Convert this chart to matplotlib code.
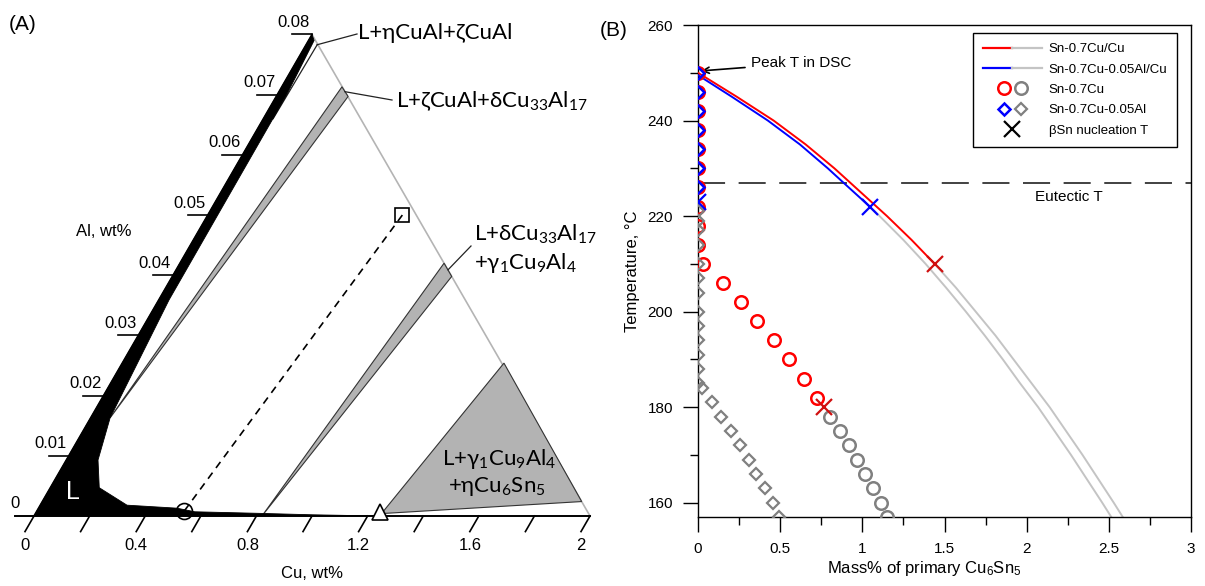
import numpy as np
import matplotlib
matplotlib.use('Agg')
import matplotlib.pyplot as plt
from matplotlib.patches import Polygon
from matplotlib.lines import Line2D
from matplotlib.legend_handler import HandlerTuple

W, H, DPI = 1205, 586, 100
plt.rcParams['font.family'] = ['Liberation Sans', 'DejaVu Sans']
plt.rcParams['mathtext.default'] = 'regular'
PHASE_FONT = ['Lato', 'DejaVu Sans']

# ================= Panel A data (wt% compositions) =================
CU_MAX, AL_MAX = 2.0, 0.08
cu_ticks = [0.0, 0.2, 0.4, 0.6, 0.8, 1.0, 1.2, 1.4, 1.6, 1.8, 2.0]
cu_labels = ['0', '', '0.4', '', '0.8', '', '1.2', '', '1.6', '', '2']
al_ticks = [0.0, 0.01, 0.02, 0.03, 0.04, 0.05, 0.06, 0.07, 0.08]
al_labels = ['0', '0.01', '0.02', '0.03', '0.04', '0.05', '0.06', '0.07', '0.08']

# single-phase liquid (L) region boundary
liq_cu = [0.0, 0.0, 0.020, 0.034, 0.037, 0.070, 0.114, 0.176, 0.312, 0.498, 0.570, 0.796, 1.000, 1.240]
liq_al = [0.0, 0.080, 0.0790, 0.0700, 0.0359, 0.0163, 0.0093, 0.0047, 0.0018, 0.0013, 0.0007, 0.00045, 0.0002, 0.0]
# three-phase regions
ez_cu = [0.040, 0.035]                 # L+eta+zeta (very thin)
ez_al = [0.0783, 0.0660]
zd_cu = [0.070, 0.2165, 0.2585]        # L+zeta+delta
zd_al = [0.0163, 0.0713, 0.0697]
dg_cu = [0.820, 0.950, 1.005]          # L+delta+gamma1
dg_al = [0.0, 0.0420, 0.0398]
gh_cu = [1.245, 1.373, 1.940]          # L+gamma1+eta(Cu6Sn5)
gh_al = [0.0004, 0.0254, 0.0024]
alloy_cu, alloy_al = 0.70, 0.05        # square
path_cu, path_al = 0.53, 0.0008        # circle
eut_cu, eut_al = 1.245, 0.0            # triangle

# ================= Panel B data =================
red_T = [250, 246, 242, 238, 234, 230, 226, 222, 218, 214, 210, 206, 202, 198, 194, 190, 186, 182]
red_m = [0, 0, 0, 0, 0, 0, 0, 0, 0, 0, 0.03, 0.15, 0.26, 0.36, 0.46, 0.554, 0.644, 0.726]
grayc_T = [178, 175, 172, 169, 166, 163, 160, 157]
grayc_m = [0.805, 0.864, 0.918, 0.970, 1.017, 1.066, 1.113, 1.153]
blue_T = [250, 246, 242, 238, 234, 230, 226]
blue_m = [0, 0, 0, 0, 0, 0, 0]
grayd_T = [221, 219, 217, 214, 210, 207, 204, 200, 197, 194, 191, 188, 185,
           184, 181, 178, 175, 172, 169, 166, 163, 160, 157]
grayd_m = [0] * 13 + [0.026, 0.085, 0.143, 0.200, 0.257, 0.308, 0.355, 0.407, 0.454, 0.491]
xred = (0.765, 180)
xblue0 = (0.0, 223)
xblue = (1.045, 222)
xred_c = (1.44, 210)

cur_red_T = [250, 245, 240, 235, 230, 227, 225, 220, 215, 210]
cur_red_m = [0.0, 0.235, 0.46, 0.655, 0.83, 0.926, 0.99, 1.15, 1.30, 1.44]
cur_redg_T = [210, 205, 200, 195, 190, 185, 180, 175, 170, 165, 160, 157]
cur_redg_m = [1.44, 1.57, 1.69, 1.81, 1.92, 2.03, 2.14, 2.24, 2.34, 2.435, 2.53, 2.585]
cur_blue_T = [249.5, 245, 240, 235, 230, 227, 222]
cur_blue_m = [0.0, 0.205, 0.425, 0.62, 0.79, 0.885, 1.045]
cur_blueg_T = [222, 220, 215, 210, 205, 200, 195, 190, 185, 180, 175, 170, 165, 160, 157]
cur_blueg_m = [1.045, 1.105, 1.25, 1.385, 1.51, 1.63, 1.745, 1.855, 1.96, 2.07, 2.17, 2.27, 2.365, 2.46, 2.515]
eutectic_T = 227
peak_T = 250

# ================= figure =================
fig = plt.figure(figsize=(W / DPI, H / DPI), dpi=DPI)

def F(px, py):
    return (px / W, 1 - py / H)

# ---- Panel A ----
axA = fig.add_axes([0, 0, 600 / W, 1])
SC = 278.0
axA.set_xlim(-34 / SC, (600 - 34) / SC)
axA.set_ylim((516 - 586) / SC, 516 / SC)
axA.axis('off')
S3 = np.sqrt(3)

def tern(cu, al):
    cu = np.asarray(cu, float); al = np.asarray(al, float)
    f = al / AL_MAX
    return cu + f * CU_MAX / 2, f * CU_MAX * S3 / 2

def P(px, py):
    return ((px - 34) / SC, (516 - py) / SC)

# right edge (grey)
u, v = tern([CU_MAX, 0], [0, AL_MAX])
axA.plot(u, v, color='#b4b4b4', lw=1.2, zorder=1)

# gray regions
for cu, al in [(zd_cu, zd_al), (dg_cu, dg_al), (gh_cu, gh_al)]:
    u, v = tern(cu, al)
    axA.add_patch(Polygon(np.c_[u, v], closed=True, fc='#b3b3b3', ec='#333333', lw=0.8, zorder=2))
u, v = tern(ez_cu, ez_al)
axA.plot(u, v, color='#222222', lw=0.9, zorder=2)

# liquid region
u, v = tern(liq_cu, liq_al)
axA.add_patch(Polygon(np.c_[u, v], closed=True, fc='black', ec='black', lw=0.6, zorder=3))

# base line incl. Al=0 tick
u0, v0 = tern(0, 0)
axA.plot([u0 - 19 / SC, CU_MAX], [v0, v0], color='black', lw=1.4, zorder=4)
# left edge
u, v = tern([0, 0], [0, AL_MAX])
axA.plot(u, v, color='black', lw=1.2, zorder=4)

# Al ticks
for a, lab in zip(al_ticks, al_labels):
    uu, vv = tern(0, a)
    if a > 0:
        axA.plot([uu - 20 / SC, uu], [vv, vv], color='black', lw=1.2, zorder=4)
        axA.text(uu - 18 / SC, vv + 12 / SC, lab, ha='center', va='center', fontsize=12)
    else:
        axA.text(uu - 19 / SC, vv + 13 / SC, lab, ha='center', va='center', fontsize=12)

# Cu ticks (slanted)
L = 18 / SC
for c, lab in zip(cu_ticks, cu_labels):
    uu, vv = tern(c, 0)
    ue, ve = uu - 0.5 * L, vv - S3 / 2 * L
    axA.plot([uu, ue], [vv, ve], color='black', lw=1.2, zorder=4)
    if lab:
        axA.text(ue, ve - 14 / SC, lab, ha='center', va='center', fontsize=12)

# dashed line alloy -> path point
u, v = tern([alloy_cu, path_cu], [alloy_al, path_al])
axA.plot(u, v, color='black', lw=1.2, dashes=(4.5, 3.5), zorder=5)
u, v = tern(alloy_cu, alloy_al)
axA.plot(u, v, marker='s', ms=10, mfc='none', mec='black', mew=1.2, zorder=6)
u, v = tern(path_cu, path_al)
axA.plot(u, v, marker='o', ms=11.5, mfc='none', mec='black', mew=1.2, zorder=6)
u, v = tern(eut_cu, eut_al)
axA.plot(u, v + 4 / SC, marker='^', ms=11, mfc='white', mec='black', mew=1.2, zorder=6)

# leaders
def leader(cu, al, px, py):
    uu, vv = tern(cu, al)
    pu, pv = P(px, py)
    axA.plot([uu, pu], [vv, pv], color='#222222', lw=0.9, zorder=5)

leader(0.040, 0.0783, 357, 34)
leader(0.237, 0.0705, 392, 100)
leader(0.978, 0.0409, 471, 246)

# panel A texts
fig.text(*F(9, 24), '(A)', ha='left', va='center', fontsize=15)
fig.text(*F(358, 33), 'L+ηCuAl+ζCuAl', ha='left', va='center', fontsize=16, family=PHASE_FONT)
fig.text(*F(396, 101), 'L+ζCuAl+δCu$_{33}$Al$_{17}$', ha='left', va='center', fontsize=16, family=PHASE_FONT)
fig.text(*F(474, 234), 'L+δCu$_{33}$Al$_{17}$', ha='left', va='center', fontsize=16, family=PHASE_FONT)
fig.text(*F(474, 263), '+γ$_1$Cu$_9$Al$_4$', ha='left', va='center', fontsize=16, family=PHASE_FONT)
fig.text(*F(499, 459), 'L+γ$_1$Cu$_9$Al$_4$', ha='center', va='center', fontsize=16, family=PHASE_FONT)
fig.text(*F(497, 487), '+ηCu$_6$Sn$_5$', ha='center', va='center', fontsize=16, family=PHASE_FONT)
fig.text(*F(73, 492), 'L', ha='center', va='center', fontsize=18, color='white')
fig.text(*F(104, 232), 'Al, wt%', ha='center', va='center', fontsize=12)
fig.text(*F(312, 573), 'Cu, wt%', ha='center', va='center', fontsize=12)

# ---- Panel B ----
left, right, top, bottom = 698, 1191, 25, 517.3
axB = fig.add_axes([left / W, 1 - bottom / H, (right - left) / W, (bottom - top) / H])
axB.set_xlim(0, 3)
axB.set_ylim(156.95, 260)

RED, BLUE, GRAY_L, GRAY_M = '#ff0000', '#0000ff', '#c4c4c4', '#808080'
axB.axhline(eutectic_T, color='#333333', lw=1.3, dashes=(15, 7.5), zorder=1)
axB.plot(cur_redg_m, cur_redg_T, color=GRAY_L, lw=1.4, zorder=2)
axB.plot(cur_blueg_m, cur_blueg_T, color=GRAY_L, lw=1.4, zorder=2)
axB.plot(cur_red_m, cur_red_T, color=RED, lw=1.4, zorder=3)
axB.plot(cur_blue_m, cur_blue_T, color=BLUE, lw=1.4, zorder=3)

mk = dict(ls='none', mfc='none')
axB.plot(red_m, red_T, marker='o', ms=9, mec=RED, mew=1.8, zorder=4, **mk)
axB.plot(grayc_m, grayc_T, marker='o', ms=9, mec=GRAY_M, mew=1.8, zorder=4, **mk)
axB.plot(grayd_m, grayd_T, marker='D', ms=6.5, mec=GRAY_M, mew=1.6, zorder=5, **mk)
axB.plot(blue_m, blue_T, marker='D', ms=6.5, mec=BLUE, mew=1.8, zorder=6, **mk)
axB.plot(*zip(xred), marker='x', ms=11, mec='#d01010', mew=1.6, zorder=7, **mk)
axB.plot(*zip(xred_c), marker='x', ms=11, mec='#d01010', mew=1.6, zorder=7, **mk)
axB.plot(*zip(xblue), marker='x', ms=11, mec=BLUE, mew=1.6, zorder=7, **mk)
axB.plot(*zip(xblue0), marker='x', ms=11, mec=BLUE, mew=1.6, zorder=7, **mk)

axB.annotate('Peak T in DSC', xy=(0.02, peak_T + 0.4), xytext=(0.32, 252),
             ha='left', va='center', fontsize=11,
             arrowprops=dict(arrowstyle='->', color='black', lw=1.2, shrinkA=2, shrinkB=0))
axB.text(2.255, 224.0, 'Eutectic T', ha='center', va='center', fontsize=11)

axB.set_xticks([0, 0.5, 1, 1.5, 2, 2.5, 3])
axB.set_xticklabels(['0', '0.5', '1', '1.5', '2', '2.5', '3'])
axB.set_xticks(np.arange(0.25, 3, 0.5), minor=True)
axB.set_yticks([160, 180, 200, 220, 240, 260])
axB.set_yticks([170, 190, 210, 230, 250], minor=True)
axB.tick_params(which='major', direction='out', length=11, width=1, labelsize=11, pad=7)
axB.tick_params(which='minor', direction='out', length=6, width=1)
for s in axB.spines.values():
    s.set_linewidth(1.0)

fig.text(*F(632, 271), 'Temperature, °C', rotation=90, ha='center', va='center', fontsize=12)
fig.text(*F(924, 568), 'Mass% of primary Cu$_6$Sn$_5$', ha='center', va='center', fontsize=12)
fig.text(*F(600, 30), '(B)', ha='left', va='center', fontsize=15)

# legend
h1 = (Line2D([], [], color=RED, lw=1.6), Line2D([], [], color=GRAY_L, lw=1.6))
h2 = (Line2D([], [], color=BLUE, lw=1.6), Line2D([], [], color=GRAY_L, lw=1.6))
h3 = (Line2D([], [], marker='o', ms=9, mec=RED, mew=1.8, **mk),
      Line2D([], [], marker='o', ms=9, mec=GRAY_M, mew=1.8, **mk))
h4 = (Line2D([], [], marker='D', ms=6.5, mec=BLUE, mew=1.8, **mk),
      Line2D([], [], marker='D', ms=6.5, mec=GRAY_M, mew=1.6, **mk))
h5 = Line2D([], [], marker='x', ms=12, mec='black', mew=1.6, **mk)
labels = ['Sn-0.7Cu/Cu', 'Sn-0.7Cu-0.05Al/Cu', 'Sn-0.7Cu', 'Sn-0.7Cu-0.05Al', 'βSn nucleation T']
leg = axB.legend([h1, h2, h3, h4, h5], labels,
                 handler_map={h1: HandlerTuple(ndivide=None, pad=0),
                              h2: HandlerTuple(ndivide=None, pad=0),
                              h3: HandlerTuple(ndivide=None, pad=-2.0),
                              h4: HandlerTuple(ndivide=None, pad=-2.0)},
                 loc='upper left', bbox_to_anchor=((973 - left) / (right - left), (bottom - 33) / (bottom - top)),
                 borderaxespad=0, fontsize=9.5, handlelength=4.47, handletextpad=0.53,
                 labelspacing=0.62, borderpad=0.75, fancybox=False, framealpha=1,
                 edgecolor='black')
leg.get_frame().set_linewidth(1.0)

fig.savefig('out.png', dpi=DPI)
